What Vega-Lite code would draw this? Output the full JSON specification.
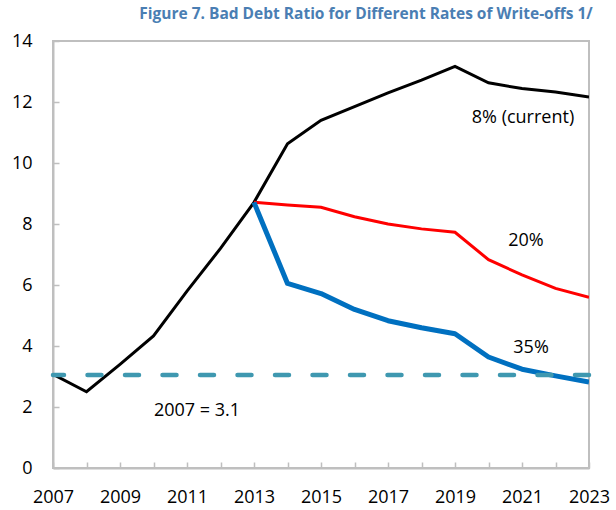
{
  "$schema": "https://vega.github.io/schema/vega-lite/v6.json",
  "width": 536,
  "height": 427,
  "autosize": {"type": "none"},
  "padding": {"left": 53, "top": 41, "right": 27, "bottom": 42},
  "background": "white",
  "title": {
    "text": "Figure 7. Bad Debt Ratio for Different Rates of Write-offs 1/",
    "font": "Open Sans",
    "fontSize": 15.5,
    "fontWeight": "bold",
    "color": "#4A7EB3",
    "anchor": "middle",
    "dx": 45,
    "offset": 10
  },
  "config": {
    "view": {"stroke": "#BFBFBF", "strokeWidth": 2},
    "axis": {
      "grid": false,
      "domainColor": "#BFBFBF",
      "domainWidth": 2,
      "tickColor": "#BFBFBF",
      "tickWidth": 1.5,
      "labelFont": "Open Sans",
      "labelFontSize": 18,
      "labelColor": "#000000",
      "title": null
    }
  },
  "datasets": {
    "series": [
      {"year": 2007, "series": "8%", "value": 3.07},
      {"year": 2008, "series": "8%", "value": 2.5},
      {"year": 2009, "series": "8%", "value": 3.4},
      {"year": 2010, "series": "8%", "value": 4.33},
      {"year": 2011, "series": "8%", "value": 5.8},
      {"year": 2012, "series": "8%", "value": 7.2},
      {"year": 2013, "series": "8%", "value": 8.71},
      {"year": 2014, "series": "8%", "value": 10.63},
      {"year": 2015, "series": "8%", "value": 11.4},
      {"year": 2016, "series": "8%", "value": 11.85},
      {"year": 2017, "series": "8%", "value": 12.3},
      {"year": 2018, "series": "8%", "value": 12.72},
      {"year": 2019, "series": "8%", "value": 13.17},
      {"year": 2020, "series": "8%", "value": 12.63},
      {"year": 2021, "series": "8%", "value": 12.44},
      {"year": 2022, "series": "8%", "value": 12.33},
      {"year": 2023, "series": "8%", "value": 12.16},
      {"year": 2013, "series": "20%", "value": 8.71},
      {"year": 2014, "series": "20%", "value": 8.62},
      {"year": 2015, "series": "20%", "value": 8.55},
      {"year": 2016, "series": "20%", "value": 8.24},
      {"year": 2017, "series": "20%", "value": 8.0},
      {"year": 2018, "series": "20%", "value": 7.84},
      {"year": 2019, "series": "20%", "value": 7.73},
      {"year": 2020, "series": "20%", "value": 6.83},
      {"year": 2021, "series": "20%", "value": 6.33},
      {"year": 2022, "series": "20%", "value": 5.89},
      {"year": 2023, "series": "20%", "value": 5.6},
      {"year": 2013, "series": "35%", "value": 8.71},
      {"year": 2014, "series": "35%", "value": 6.05},
      {"year": 2015, "series": "35%", "value": 5.72},
      {"year": 2016, "series": "35%", "value": 5.2},
      {"year": 2017, "series": "35%", "value": 4.83},
      {"year": 2018, "series": "35%", "value": 4.6},
      {"year": 2019, "series": "35%", "value": 4.4},
      {"year": 2020, "series": "35%", "value": 3.64},
      {"year": 2021, "series": "35%", "value": 3.24},
      {"year": 2022, "series": "35%", "value": 3.02},
      {"year": 2023, "series": "35%", "value": 2.82}
    ],
    "labels": [
      {"year": 2021.03, "value": 11.49, "text": "8% (current)"},
      {"year": 2021.12, "value": 7.45, "text": "20%"},
      {"year": 2021.27, "value": 3.94, "text": "35%"},
      {"year": 2011.3, "value": 1.87, "text": "2007 = 3.1"}
    ],
    "ref": [{"value": 3.05}]
  },
  "encoding": {
    "x": {
      "field": "year",
      "type": "quantitative",
      "scale": {"domain": [2007, 2023], "nice": false, "zero": false},
      "axis": {
        "values": [2007, 2008, 2009, 2010, 2011, 2012, 2013, 2014, 2015, 2016, 2017, 2018, 2019, 2020, 2021, 2022, 2023],
        "labelExpr": "datum.value % 2 == 1 ? format(datum.value, 'd') : ''",
        "tickSize": -6,
        "labelPadding": 26,
        "labelFlush": false
      }
    },
    "y": {
      "field": "value",
      "type": "quantitative",
      "scale": {"domain": [0, 14], "nice": false},
      "axis": {
        "values": [0, 2, 4, 6, 8, 10, 12, 14],
        "tickSize": -6,
        "labelPadding": 27
      }
    }
  },
  "layer": [
    {
      "data": {"name": "series"},
      "transform": [{"filter": "datum.series == '8%'"}],
      "mark": {"type": "line", "color": "#000000", "strokeWidth": 3, "strokeJoin": "miter", "clip": true}
    },
    {
      "data": {"name": "series"},
      "transform": [{"filter": "datum.series == '20%'"}],
      "mark": {"type": "line", "color": "#FF0000", "strokeWidth": 3, "strokeJoin": "miter", "clip": true}
    },
    {
      "data": {"name": "series"},
      "transform": [{"filter": "datum.series == '35%'"}],
      "mark": {"type": "line", "color": "#0070C0", "strokeWidth": 5, "strokeJoin": "round", "clip": true}
    },
    {
      "data": {"name": "ref"},
      "mark": {"type": "rule", "color": "#3F98B0", "strokeWidth": 4.5, "strokeDash": [14, 23.5], "strokeCap": "round"},
      "encoding": {
        "x": null,
        "y": {"field": "value", "type": "quantitative"}
      }
    },
    {
      "data": {"name": "labels"},
      "mark": {"type": "text", "font": "Open Sans", "fontSize": 18, "color": "#000000", "align": "center", "baseline": "middle"},
      "encoding": {
        "text": {"field": "text"}
      }
    }
  ]
}
